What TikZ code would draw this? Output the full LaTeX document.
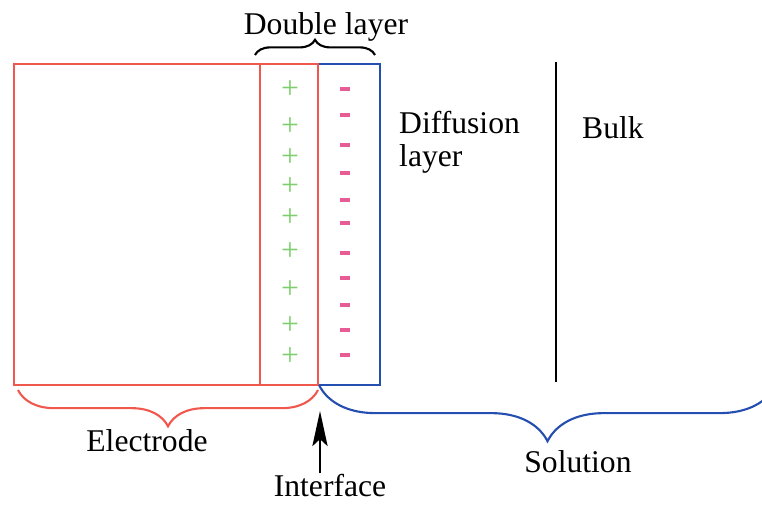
\documentclass[tikz,border=0pt]{standalone}
\usepackage{fontspec}
\setmainfont{Liberation Serif}
\usetikzlibrary{positioning, arrows.meta, calc, decorations.pathreplacing}

\definecolor{elred}{RGB}{240,88,78}
\definecolor{solblue}{RGB}{36,78,176}
\definecolor{plusgreen}{RGB}{126,206,110}
\definecolor{minuspink}{RGB}{232,92,150}

\tikzset{
	redline/.style={draw=elred, line width=2pt},
	blueline/.style={draw=solblue, line width=2pt},
	textlabel/.style={font=\rmfamily\fontsize{27}{28}\selectfont, inner sep=0pt},
	plussign/.style={text=plusgreen, font=\rmfamily\fontsize{27}{27}\selectfont, inner sep=0pt},
	minussign/.style={draw=minuspink, line width=2.6pt},
	bracedec/.style={decorate, decoration={brace, amplitude=#1}, line width=1.8pt}
}

\begin{document}
\begin{tikzpicture}[x=0.03cm, y=-0.03cm]
		
		\useasboundingbox (0,0) rectangle (762,506);
		
		%Creo le zone dell'elettrodo e della soluzione
		\draw[blueline] (318,64) -- (380,64) -- (380,385) -- (318,385);
		\draw[redline] (14,64) rectangle (318,385);
		\draw[redline] (260,64) -- (260,385);
		\draw[black, line width=1.7pt] (556,62) -- (556,382);
		
		%Cariche del doppio strato
		\foreach \y [count=\i] in {90,127,158,187,218,252,290,326,357}
		\node[plussign] (plus\i) at (290,\y) {+};
		\foreach \y in {89,115,145,173,200,223,253,278,305,330,355}
		\draw[minussign] (340,\y) -- (350,\y);
		
		%Testi
		\node[textlabel] (doubleLayer) at (326,27) {Double layer};
		\node[textlabel, anchor=west, align=left] (diffusionLayer) at (399,142) {Diffusion\\layer};
		\node[textlabel, anchor=west] (bulk) at (582,128) {Bulk};
		\node[textlabel] (electrode) at (147,441) {Electrode};
		\node[textlabel] (solution) at (578,462) {Solution};
		\node[textlabel, anchor=base] (interface) at (330,496) {Interface};
		\coordinate (interfacePoint) at (320,411);
		
		%Parentesi
		\draw[bracedec=13pt] (255,55) -- (375,55);
		\draw[bracedec=31pt, elred] (318,390) -- (18,390);
		\draw[bracedec=48pt, solblue] (776,385) -- (319,385);
		
		\draw[-{Stealth[length=30pt, width=13pt, inset=6pt]}, line width=1.8pt] (interface.north -| interfacePoint) -- (interfacePoint);
		
		\end{tikzpicture}
\end{document}
